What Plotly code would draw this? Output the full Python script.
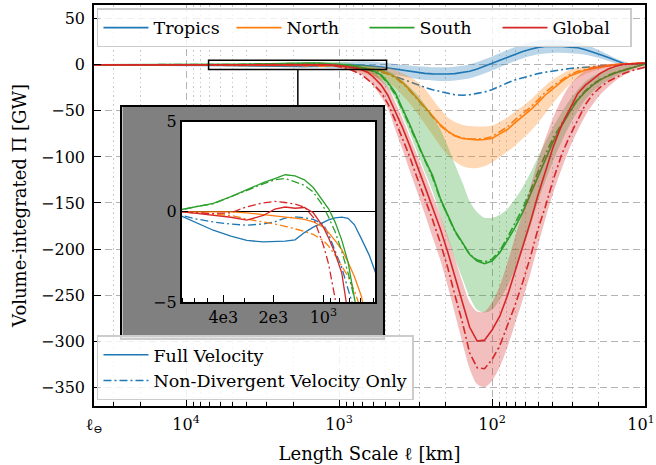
import math
import plotly.graph_objects as go

# ---------------- data ----------------
L_KM = [40000, 10000, 7130, 5800, 4600, 3600, 2890, 2300, 1960, 1700, 1480, 1300, 1150, 1000,
        930, 850, 775, 710, 650, 590, 530, 480, 430, 385, 345, 310, 275, 245, 218, 195, 175,
        156, 140, 125, 112, 100, 89, 79, 71, 63, 56, 50, 45, 40, 35, 31, 27.5, 24.5, 22, 19.5,
        17.4, 15.5, 13.8, 12.3, 11, 10]

TROPICS_FULL = [0, 0, -0.24, -0.62, -1.02, -1.35, -1.58, -1.67, -1.66, -1.62, -1.55, -1.15, -0.85, -0.56,
                -0.45, -0.33, -0.29, -0.36, -0.72, -1.5, -2.4, -3.5, -5, -6.3, -7.5, -8.5, -9.3, -9.8, -10, -10, -9.5,
                -8.5, -7, -4.5, -1.5, 1.5, 5, 8.5, 11.5, 14.5, 17, 19, 20, 20.2, 20, 19.3, 18.5, 16.5, 14.2, 11,
                8, 4.5, 1.5, 1.0, 1.2, 1.5]
TROPICS_ND = [0, 0, -0.2, -0.4, -0.56, -0.68, -0.74, -0.67, -0.55, -0.35, -0.28, -0.33, -0.42, -0.7,
              -1.25, -2.15, -3.1, -4.3, -5.5, -6.5, -8, -9.5, -12.5, -15.5, -18.5, -21.5, -24.5, -27, -29, -31, -32.5,
              -33, -32.5, -31, -29.5, -27, -23, -19.5, -16.5, -14, -11.5, -9.5, -8, -6.5, -5, -4, -3.2, -2.5, -2, -1.3,
              -0.8, -0.3, 0.3, 0.8, 1.2, 1.5]
NORTH_FULL = [0, 0, 0.04, 0.04, 0.03, 0, -0.06, -0.15, -0.2, -0.27, -0.35, -0.42, -0.55, -0.85,
              -1.15, -1.6, -2.1, -2.8, -3.6, -4.7, -6.5, -9, -13, -19, -27, -36, -46, -56, -65, -72, -77,
              -80, -81, -81.5, -81, -80, -75, -70, -63, -56, -49, -41, -33, -26, -18, -12, -8.5, -5.5, -3.8, -2.3,
              -1, 0.3, 1, 1.4, 1.7, 2]
NORTH_ND = [0, 0, 0, -0.05, -0.12, -0.2, -0.4, -0.55, -0.68, -0.8, -0.93, -1.08, -1.25, -1.6,
            -1.9, -2.4, -3.0, -3.6, -4.4, -5.5, -7.5, -10, -14, -20, -28, -37, -47, -57, -66, -72.5, -77,
            -79.5, -80.5, -80.5, -80, -78, -73, -67, -60, -53, -46, -38, -30, -23, -16, -10.5, -7, -4.5, -3, -1.8,
            -0.7, 0.5, 1.1, 1.5, 1.8, 2]
SOUTH_FULL = [0, 0, 0.13, 0.3, 0.47, 0.85, 1.24, 1.62, 1.85, 2.06, 2.0, 1.78, 1.35, 0.6,
              0.17, -0.57, -1.57, -2.8, -4.6, -7, -11, -19, -30, -47, -65, -83, -103, -120, -145, -163, -180,
              -193, -206, -213, -216, -213, -204, -190, -177, -160, -140, -120, -102, -84, -66, -51, -38, -29, -22, -16,
              -12, -8.5, -6, -3.5, -1, 1]
SOUTH_ND = [0, 0, 0.1, 0.3, 0.45, 0.85, 1.2, 1.55, 1.78, 1.85, 1.67, 1.47, 1.1, 0.3,
            -0.3, -1.1, -2.2, -3.4, -4.8, -7.5, -12, -20, -32, -49, -67, -85, -105, -122, -146, -164, -181,
            -194, -206, -212, -214, -211, -202, -187, -173, -156, -136, -116, -98, -80, -63, -49, -37, -28, -21, -15.5,
            -11.5, -8, -5.5, -3, -0.8, 1]
GLOBAL_FULL = [0, 0, 0, -0.08, -0.18, -0.3, -0.46, -0.2, 0.15, 0.27, 0.2, 0.24, -0.05, -0.85,
               -1.45, -2.3, -3.4, -5.5, -8, -14, -22, -33, -50, -68, -88, -108, -132, -155, -178, -203, -230,
               -260, -285, -300, -299, -288, -273, -250, -226, -198, -170, -141, -116, -90, -65, -48, -31, -22, -16, -9,
               -4.5, -1.5, 0.5, 1.2, 1.6, 2]
GLOBAL_ND = [0, 0, 0, -0.05, -0.1, -0.05, 0.28, 0.5, 0.58, 0.52, 0.43, 0.26, -0.3, -1.85,
             -2.9, -4.8, -8, -11, -16, -22, -30, -42, -60, -80, -100, -122, -145, -168, -193, -220, -250,
             -280, -313, -329, -330, -320, -305, -283, -262, -236, -208, -178, -155, -126, -97, -77, -59, -43, -32, -24,
             -18, -13.5, -9.5, -6.5, -4.5, -2.5]

BAND_L = [2890, 1960, 1480, 1150, 1000, 850, 710, 590, 480, 430, 385, 345, 310, 275, 245, 218, 195, 175,
          156, 140, 125, 112, 100, 89, 79, 71, 63, 56, 50, 40, 31, 24.5, 19.5, 15.5, 12.3, 10]
TROPICS_UP = [-1.2, -0.8, -0.2, 1.5, 2.5, 3.5, 4, 3.5, 2, 1, 0, -0.8, -1.5, -2, -2.5, -2.5, -2.5, -2,
              -1, 0.5, 3, 6, 9, 12.5, 16, 19, 22, 24.5, 26.5, 27.5, 26, 22, 15, 7, 1.5, 1.8]
TROPICS_LO = [-2, -2.5, -3, -3.5, -4, -4.5, -5, -6, -9, -11, -12.5, -14, -15.5, -16.5, -17, -17.5, -17.5, -17,
              -16, -14.5, -12, -9, -6, -2.5, 1, 4, 7, 9.5, 11.5, 13, 12.5, 11, 7, 2, 0.5, 1.2]
NORTH_UP = [0, 0, 0, 0.3, 0.3, 0, -0.5, -1.5, -3, -5.5, -9, -13, -18, -26, -37, -48, -57, -62,
            -65, -66.5, -67, -67, -66, -62, -57, -51, -45, -38, -30, -16, -5.5, -1.5, 0, 1.5, 2, 2.2]
NORTH_LO = [-0.2, -0.5, -1, -1.5, -2.5, -5, -8, -13, -19, -25, -33, -42, -52, -64, -76, -88, -98, -105,
            -110, -112, -112, -110, -106, -100, -94, -88, -80, -72, -63, -42, -21, -10, -4.5, -1, 1, 1.8]
SOUTH_UP = [1.5, 2.5, 3, 3, 3, 2, 0, -2, -7, -11, -17, -24, -32, -43, -55, -70, -88, -108,
            -128, -148, -160, -166, -166, -163, -156, -146, -133, -117, -100, -68, -38, -18, -8, -3, 0, 1.5]
SOUTH_LO = [1, 1.2, 1, 0, -1.5, -3.5, -6.5, -12, -25, -37, -55, -74, -94, -116, -137, -163, -188, -210,
            -232, -252, -266, -269, -266, -255, -240, -222, -200, -175, -148, -105, -65, -38, -22, -12, -5, 0.5]
GLOBAL_UP = [0, 0.5, 0.8, 0.5, 0, -1, -3, -8, -24, -40, -58, -78, -97, -119, -141, -163, -186, -210,
             -236, -258, -268, -268, -258, -240, -214, -188, -160, -132, -104, -58, -22, -6, 0, 1.5, 2, 2.2]
GLOBAL_LO = [-1, -0.5, -0.4, -1, -2.5, -6, -11, -24, -47, -70, -92, -115, -137, -162, -187, -212, -240, -270,
             -302, -330, -347, -350, -343, -328, -306, -282, -255, -226, -196, -140, -90, -55, -32, -17, -7, -3]

REGIONS = ["Tropics", "North", "South", "Global"]
STYLE_NAMES = ["Full Velocity", "Non-Divergent Velocity Only"]
X_TICK_VALS = [40000, 1e4, 1e3, 1e2, 1e1]
X_TICK_TEXT = ["ℓ<sub>⊖</sub>", "10<sup>4</sup>", "10<sup>3</sup>", "10<sup>2</sup>",
               "10<sup>1</sup>\u2002"]
X_MINOR_VALS = [30000, 20000, 9000, 8000, 7000, 6000, 5000, 4000, 3000, 2000,
                900, 800, 700, 600, 500, 400, 300, 200, 90, 80, 70, 60, 50, 40, 30, 20]
Y_TICK_VALS = [50, 0, -50, -100, -150, -200, -250, -300, -350]
INSET_TICK_VALS = [4000, 2000, 1000]
INSET_TICK_TEXT = ["4e3", "2e3", "10<sup>3</sup>"]
INSET_MINOR_VALS = [7000, 6000, 5000, 3000, 900, 800, 700, 600, 500]
INSET_Y_TICKS = [-5, 0, 5]

SERIES = {
    "Tropics": (TROPICS_FULL, TROPICS_ND, TROPICS_UP, TROPICS_LO),
    "North": (NORTH_FULL, NORTH_ND, NORTH_UP, NORTH_LO),
    "South": (SOUTH_FULL, SOUTH_ND, SOUTH_UP, SOUTH_LO),
    "Global": (GLOBAL_FULL, GLOBAL_ND, GLOBAL_UP, GLOBAL_LO),
}
for k, v in SERIES.items():
    assert len(v[0]) == len(L_KM) and len(v[1]) == len(L_KM), k
    assert len(v[2]) == len(BAND_L) and len(v[3]) == len(BAND_L), k

# ---------------- styling ----------------
COLORS = {"Tropics": (31, 119, 180), "North": (255, 127, 14), "South": (44, 160, 44), "Global": (214, 39, 40)}
FONT = "DejaVu Serif"
DASHDOT = "8px,3px,2px,3px"
X_MAIN = [math.log10(40000), 1.0]
Y_MAIN = [-370.5, 65]
X_IN = [math.log10(7130), math.log10(489)]
Y_IN = [-5, 5]
BOX_X = [0.0514, 0.525]
BOX_Y = [0.169, 0.746]
IN_X = [0.159, 0.510]
IN_Y = [0.2595, 0.7088]


def rgb(c, a=None):
    return f"rgb{c}" if a is None else f"rgba({c[0]},{c[1]},{c[2]},{a})"


fig = go.Figure()

# ---- main panel ----
for reg in REGIONS:
    full, nd, up, lo = SERIES[reg]
    c = COLORS[reg]
    fig.add_trace(go.Scatter(x=BAND_L + BAND_L[::-1], y=up + lo[::-1], fill="toself",
                             fillcolor=rgb(c, 0.3), line=dict(width=0, shape="spline", smoothing=0.8),
                             mode="lines", showlegend=False, hoverinfo="skip", xaxis="x", yaxis="y"))
    fig.add_trace(go.Scatter(x=L_KM, y=full, mode="lines", name=reg, legend="legend",
                             line=dict(color=rgb(c), width=1.6), xaxis="x", yaxis="y"))
    fig.add_trace(go.Scatter(x=L_KM, y=nd, mode="lines", showlegend=False,
                             line=dict(color=rgb(c), width=1.6, dash=DASHDOT), xaxis="x", yaxis="y"))

# legend-2 entries (line style key)
blue = rgb(COLORS["Tropics"])
fig.add_trace(go.Scatter(x=[None], y=[None], mode="lines", name=STYLE_NAMES[0], legend="legend2",
                         line=dict(color=blue, width=1.6), xaxis="x", yaxis="y"))
fig.add_trace(go.Scatter(x=[None], y=[None], mode="lines", name=STYLE_NAMES[1], legend="legend2",
                         line=dict(color=blue, width=1.6, dash=DASHDOT), xaxis="x", yaxis="y"))

# ---- gray frame of the inset ----
fig.add_trace(go.Scatter(x=[0, 1, 1, 0, 0], y=[0, 0, 1, 1, 0], fill="toself", fillcolor="#808080",
                         mode="lines", line=dict(width=0), showlegend=False, hoverinfo="skip",
                         xaxis="x2", yaxis="y2"))

# ---- inset panel ----
for reg in REGIONS:
    full, nd, up, lo = SERIES[reg]
    c = COLORS[reg]
    fig.add_trace(go.Scatter(x=L_KM, y=full, mode="lines", showlegend=False,
                             line=dict(color=rgb(c), width=1.3), xaxis="x3", yaxis="y3"))
    fig.add_trace(go.Scatter(x=L_KM, y=nd, mode="lines", showlegend=False,
                             line=dict(color=rgb(c), width=1.3, dash=DASHDOT), xaxis="x3", yaxis="y3"))

tickfont = dict(family=FONT, size=16, color="black")
axis_common = dict(showline=True, linecolor="black", linewidth=1.5, mirror=True, ticks="inside",
                   tickcolor="black", tickwidth=1.2, ticklen=7, zeroline=False, tickfont=tickfont,
                   automargin=False)
TITLE_FONT = dict(family=FONT, size=18, color="black")
LEG_FONT = dict(family=FONT, size=17.5, color="black")

fig.update_layout(
    width=656, height=465, margin=dict(l=94, r=11, t=5, b=59, autoexpand=False),
    paper_bgcolor="white", plot_bgcolor="white",
    font=dict(family=FONT, color="black"),
    xaxis=dict(type="log", range=X_MAIN, domain=[0, 1], anchor="y",
               tickmode="array", tickvals=X_TICK_VALS, ticktext=X_TICK_TEXT,
               ticklabeloverflow="allow", ticklabelstandoff=3,
               showgrid=True, gridcolor="#b3b3b3", griddash="7px,4px", gridwidth=1,
               minor=dict(tickmode="array", tickvals=X_MINOR_VALS, ticks="inside", ticklen=4,
                          tickcolor="black", tickwidth=1, showgrid=True, gridcolor="#c8c8c8",
                          griddash="1.5px,3px", gridwidth=1),
               title=dict(text="Length Scale ℓ [km]", font=TITLE_FONT, standoff=12),
               **axis_common),
    yaxis=dict(range=Y_MAIN, domain=[0, 1], anchor="x", tickmode="array", tickvals=Y_TICK_VALS,
               showgrid=True, gridcolor="#b3b3b3", griddash="7px,4px", gridwidth=1,
               title=dict(text="Volume-integrated Π [GW]", font=TITLE_FONT, standoff=10),
               ticklabelstandoff=4, **axis_common),
    xaxis2=dict(range=[0, 1], domain=BOX_X, anchor="y2", showline=True, mirror=True, linecolor="black",
                linewidth=1.8, showticklabels=False, ticks="", showgrid=False, zeroline=False),
    yaxis2=dict(range=[0, 1], domain=BOX_Y, anchor="x2", showline=True, mirror=True, linecolor="black",
                linewidth=1.8, showticklabels=False, ticks="", showgrid=False, zeroline=False),
    xaxis3=dict(type="log", range=X_IN, domain=IN_X, anchor="y3", tickmode="array",
                tickvals=INSET_TICK_VALS, ticktext=INSET_TICK_TEXT, showgrid=False,
                minor=dict(tickmode="array", tickvals=INSET_MINOR_VALS, ticks="inside", ticklen=4,
                           tickcolor="black", tickwidth=1, showgrid=False),
                **axis_common),
    yaxis3=dict(range=Y_IN, domain=IN_Y, anchor="x3", tickmode="array", tickvals=INSET_Y_TICKS,
                showgrid=False, **{k: v for k, v in axis_common.items() if k != "zeroline"},
                zeroline=True, zerolinecolor="black", zerolinewidth=1.2),
    legend=dict(x=0.0054, y=0.9918, xanchor="left", yanchor="top", orientation="h",
                bgcolor="rgba(255,255,255,0.8)", bordercolor="#cccccc", borderwidth=1.5,
                font=LEG_FONT, entrywidth=73, entrywidthmode="pixels", itemwidth=45,
                tracegroupgap=0),
    legend2=dict(x=0.0054, y=0.0142, xanchor="left", yanchor="bottom", orientation="v",
                 bgcolor="rgba(255,255,255,0.8)", bordercolor="#cccccc", borderwidth=1.5,
                 font=LEG_FONT, itemwidth=45, tracegroupgap=0),
    showlegend=True,
)


def xpaper(L):
    return (X_MAIN[0] - math.log10(L)) / (X_MAIN[0] - X_MAIN[1])


def ypaper(v):
    return (v - Y_MAIN[0]) / (Y_MAIN[1] - Y_MAIN[0])


# zoom indicator rectangle and connector line
fig.add_shape(type="rect", xref="paper", yref="paper",
              x0=xpaper(10 ** X_IN[0]), x1=xpaper(10 ** X_IN[1]), y0=ypaper(Y_IN[0]), y1=ypaper(Y_IN[1]),
              line=dict(color="black", width=1.5), layer="above")
CONNECT_L = 1860
fig.add_shape(type="line", xref="paper", yref="paper", x0=xpaper(CONNECT_L), x1=xpaper(CONNECT_L),
              y0=ypaper(Y_IN[0]), y1=BOX_Y[1], line=dict(color="black", width=1.5), layer="above")
# dashed reference line at 10^3 in the inset
frac = (X_IN[0] - 3.0) / (X_IN[0] - X_IN[1])
fig.add_shape(type="line", xref="x3 domain", yref="y3 domain", x0=frac, x1=frac, y0=0, y1=1,
              line=dict(color="#b3b3b3", width=1.2, dash="7px,4px"), layer="below")

fig.write_html("out.html")
